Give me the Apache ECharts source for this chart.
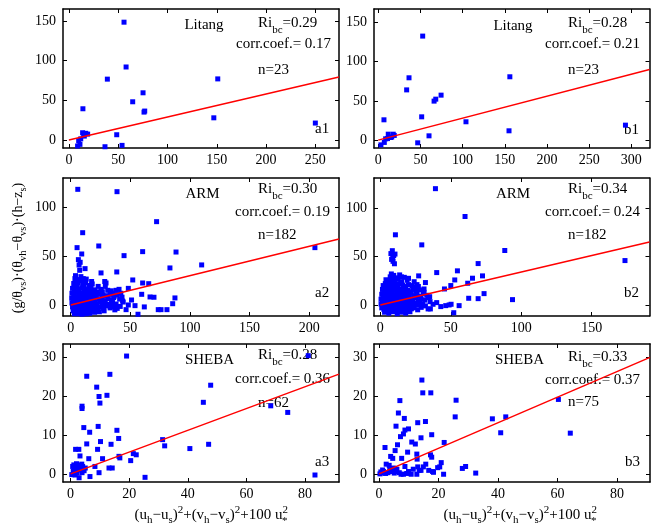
<!DOCTYPE html>
<html>
<head>
<meta charset="utf-8">
<script src="https://cdn.jsdelivr.net/npm/echarts@6/dist/echarts.min.js"></script>
<style>
  html, body { margin: 0; padding: 0; background: #fff; }
  #chart { width: 661px; height: 527px; }
</style>
</head>
<body>
<div id="chart"></div>
<script>
// ---- Data: x = (uh-us)^2+(vh-vs)^2+100 u*^2, y = (g/θvs)(θvh-θvs)(h-zs) ----
const litangA = [[55.9,148.4],[58,92],[39,76.7],[151,77],[75.2,59.5],[64.7,48.2],[76.9,36.5],[76.2,35.2],[14.2,39.4],[147,28],[250,21.4],[13.9,9.2],[19,7.5],[15.6,5],[48.5,6.7],[9.9,-0.9],[11.2,-5.4],[8.8,-7.5],[36.6,-8.4],[53.9,-6.7],[12,1.5],[17,8.5],[15,6.5]];
const litangB = [[52.7,132.5],[36.5,79.4],[156,80.7],[33.7,64],[74.5,57.3],[68.2,52.2],[66.2,49.7],[6.8,25.9],[51.5,29.7],[104,23.4],[293,19.1],[155,11.9],[60.2,5.5],[11.9,7.6],[17.8,7.6],[14.7,3.4],[8.8,1.7],[16,4],[7.2,-2.9],[3.2,-6],[46.8,-3.4],[11,2],[19,6]];

const armA = [
  [5.9,118.4],[38.8,116],[72,85.3],[10,74],[23.5,60.4],[5.3,58.7],[60.3,54.6],[88.3,54.2],[44.7,50.5],[204.8,58.7],
  [109.8,41],[83.2,37.9],[38.6,33.8],[25.4,32.8],[9.2,52.2],[6.4,46.4],[7.9,43.7],[7,40.9],[7.5,35.5],[12,37.2],
  [52,25.6],[60.3,22.5],[65.4,21.8],[29.6,22.5],[48.3,17],[59.5,10.9],[66.5,8.2],[69.8,7.9],[87.4,7.2],[85.5,1.3],
  [51,5.1],[48.3,0],[46.4,-4.8],[53.9,-0.7],[61.7,-2],[56.4,-9.5],[73.4,-4.8],[75.7,-4.8],[80.7,-4.8],
  [3.5,27],[8.5,29],[13,26.5],[9,25],[17.5,24],
  [2.5,22],[6,23],[10,21],[12.5,22.5],[15.5,20],[18,21.5],[28.5,24],[23,19],
  [1.5,17],[4,18],[7,16],[9.5,17.5],[11.5,15],[14,16.5],[17,17],[20,15.5],[22,13.5],[25.5,16],[31,15],[34,14.5],[38,15],[40.5,16],
  [1,12],[3,11],[5,13],[7.5,11.5],[9,12.5],[11,10.5],[13.5,12],[16,11],[18.5,12.5],[21,10],[24,11.5],[27,10],[30,9.5],[33,11],[36.5,9],[39,10.5],[42,12],
  [0.8,7],[2.5,8],[4.5,6.5],[6.5,8.5],[8,6],[10,7.5],[12,5.5],[14,8],[15.5,6],[17.5,7],[19.5,5],[21.5,8],[23.5,6],[26,7],[28,4.5],[31.5,6.5],[34,5],[36,7.5],[41,6],[43.5,4],
  [1,2],[2,3.5],[3.5,1],[5,2.5],[6.5,0.5],[8.5,3],[9.5,1.5],[11,3.5],[12.5,0],[14,2],[15,4],[16.5,1],[18,3],[19,0.5],[20.5,2.5],[22,1],[24.5,3],[26.5,1.5],[29,2],[32.5,0.5],[35,2.5],[38,1],[44,3],
  [1.5,-2],[3,-3.5],[4.5,-1],[6,-2.5],[7.5,-4],[9,-1.5],[10.5,-3],[12,-2],[13.5,-4.5],[15,-1],[16.5,-3],[18,-2],[19.5,-4],[21,-1.5],[23,-3],[25,-2],[27.5,-3.5],[30,-1],[33,-3],[36,-2],[39,-3.5],[41.5,-1.5],
  [2,-6],[4,-7.5],[6,-5.5],[8,-8],[10,-6.5],[12,-5],[14.5,-7],[16,-5.5],[18.5,-6.5],[21.5,-5],[24,-7],[6.5,-9],[13,-9],
  [2,5],[3,14],[5.5,20],[7,26],[4,30],[10.5,27],[11,19],[13,14],[8,9.5],[17,14],[19,9],[26.5,13.5],[29,19],[35,12],[43,8],[37,-5],[28,-6],[3,-9],[9.5,-9.5],[16,-8.5],[20,-7.5]
];

const armB = [
  [39.1,120],[60.1,91.3],[10.7,72.4],[29.4,62],[88.3,56.2],[173.6,45.8],[69.4,42.7],[54.7,35.2],[40,33.4],[27.2,30],
  [72.5,30],[32,23.1],[52.8,25.8],[62,22.4],[65.4,27.6],[73.6,11.7],[69.4,6.5],[62.7,6.9],[93.8,5.5],[55.9,-0.7],
  [52.1,-8],[45.5,16.5],[50,20],[7.8,32],[13.7,31],
  [7.5,53],[8.5,56],[9.5,51],[8,47],[9,45],[10,42.5],[8.8,49.5],[10.4,52.5],
  [48.8,0],[50.2,0.7],[46.4,-0.7],[42.9,-1.7],[40,2.4],[37.4,0.7],[35.3,3.4],[33.9,-4.1],[35.5,-4.1],
  [4,26],[6,24.5],[8,27],[10,25],[12.5,26.5],[15,24],[19,25.5],[24,24],
  [2,20],[3.5,22],[5,21],[6.5,19.5],[8,22.5],[9.5,20.5],[11,21.5],[12.5,19],[14,22],[16,20.5],[18,19],[20,21],[22.5,20],[25,18.5],
  [1.5,16],[3,15],[4.5,17],[6,16.5],[7.5,14.5],[9,17],[10.5,15.5],[12,16.5],[13.5,14],[15,16],[16.5,14.5],[18,17],[19.5,15],[21,13.5],[23,16],[25.5,14],[28,15.5],[31,13],
  [1,11],[2.5,12],[4,10],[5.5,12.5],[7,10.5],[8.5,12],[10,9.5],[11.5,11.5],[13,10],[14.5,12.5],[16,10.5],[17.5,9],[19,11.5],[20.5,10],[22,12],[24,9.5],[26,11],[28.5,9],[30.5,11.5],[33,10],
  [0.5,6],[2,7],[3.5,5],[5,7.5],[6.5,5.5],[8,6.5],[9.5,4.5],[11,7],[12.5,5],[14,6.5],[15.5,4.5],[17,7],[18.5,5.5],[20,4],[21.5,6.5],[23,5],[25,7],[27,4.5],[29,6],[31.5,5],[34,7.5],
  [0.5,1],[1.5,2.5],[3,0],[4.5,2],[6,-0.5],[7.5,1.5],[9,0],[10.5,2.5],[12,0.5],[13.5,2],[15,-0.5],[16.5,1.5],[18,3],[19.5,0],[21,2],[22.5,-0.5],[24,1.5],[26,0],[28,2.5],[30,0.5],[32,-1],
  [1,-3],[2.5,-4.5],[4,-2.5],[5.5,-5],[7,-3],[8.5,-4.5],[10,-2],[11.5,-5.5],[13,-3.5],[14.5,-2],[16,-4.5],[17.5,-3],[19,-5.5],[20.5,-2.5],[22,-4],[24,-3],[26.5,-5],[29,-2.5],
  [3,-7.5],[6,-8.5],[9,-7],[12,-9],[15,-7.5],[18,-8.5],[21,-7],
  [7,29],[9.5,30.5],[11,28],[17,28.5],[5,13],[13,7.5],[3,9],[26,21],[15,29],[20,27.5],[27,19],[31,16.5],[35,8.5]
];

const shebaA = [[19.1,30.3],[5.5,25.1],[13.4,25.6],[8.9,22.3],[9.7,19.9],[12.4,20.2],[10,18.2],[3.9,17.4],[3.9,16.8],[4.5,11.9],[6.5,10.7],[9.4,12.2],[15.8,11.2],[16.4,9.1],[5.5,7.7],[10.2,8.3],[13.8,7.6],[9.2,6.3],[1.7,6.3],[2.8,6.3],[3.2,4.6],[6.2,3.9],[10.9,3.9],[16.5,4.5],[16.8,4.1],[21.4,5.2],[22.4,4.9],[20.5,3.4],[31.4,8.8],[32.1,7.2],[8.3,1.9],[13.1,1.5],[14.2,1.5],[9.7,0.3],[1.1,2.3],[2,2.6],[2.8,2.2],[3.8,2.5],[0.7,1.9],[1.8,1.5],[2.6,1.2],[4.1,1.9],[0.9,0.6],[3.2,1],[3.9,0.3],[1.5,-0.3],[2.9,-1],[6.6,-0.7],[25.4,-0.9],[45.3,18.4],[47.8,22.8],[68.3,17.5],[74.1,15.8],[81.1,30.4],[83.4,-0.3],[40.7,6.5],[47.1,7.6],[2.2,0.2],[5,1.5],[0.4,-0.2],[4.6,0.8],[1.3,1.0]];

const shebaB = [[14.4,24.2],[14.7,20.9],[17.4,20.9],[7,18.9],[25.9,19],[60.3,19.2],[6.5,15.7],[25.6,14.7],[38.1,14.2],[42.6,14.7],[8.5,14.3],[15.6,13.5],[13,13.2],[5.7,12.3],[9.9,11.6],[8.7,11.3],[8.2,10.3],[7.2,9.6],[40.9,10.6],[64.3,10.5],[17.7,10.1],[14.1,9.3],[11,8.2],[12.2,7.7],[21.9,8.1],[6.2,7.5],[2,6.8],[5.4,6],[9.6,5.6],[12.7,5.1],[17.3,4.9],[17.7,4.3],[3.9,4.5],[4.6,4],[7.6,4],[12.8,3.8],[2.4,2.5],[3.4,2.2],[8.7,1.9],[15.7,2.5],[20.9,2.9],[20.4,1.8],[19.7,1.6],[28,1.4],[29.1,1.9],[32.5,0.2],[0.3,0],[0.9,0.2],[1.5,0.6],[4.3,0.6],[5.1,0.2],[5.6,0.6],[6,1.2],[7.4,-0.1],[8.2,-0.1],[9.9,0.6],[10.8,-0.1],[13.5,0.9],[14.1,0.9],[14.9,1.8],[18.3,0.4],[21.7,-0.1],[12.7,-0.1],[16.7,0.9],[18,0.6],[3,0.3],[2.2,0.1],[0.6,0.5],[4.8,1.5],[6.8,0.3],[11.5,1.2],[13,1.8],[1.2,1],[3.6,1.1],[9.3,0.1]];

// Bulk Richardson numbers (slope of fitted line), correlation coefficients, counts
const sites   = ['Litang', 'Litang', 'ARM', 'ARM', 'SHEBA', 'SHEBA'];
const tags    = ['a1', 'b1', 'a2', 'b2', 'a3', 'b3'];
const riBc    = [0.29, 0.28, 0.30, 0.34, 0.28, 0.33];
const corrTxt = ['0.17', '0.21', '0.19', '0.24', '0.36', '0.37'];
const counts  = [23, 23, 182, 182, 62, 75];
const points  = [litangA, litangB, armA, armB, shebaA, shebaB];

// Axis extents and tick labels
const xRanges = [[-6, 274], [-5, 321.5], [-6.5, 225], [-4.5, 191], [-2.6, 91.6], [-1.7, 91.1]];
const yRanges = [[-10, 165], [-10, 167], [-11.3, 130], [-11.4, 131], [-2.1, 33.4], [-2.1, 33.5]];
const xTicks  = [[0,50,100,150,200,250], [0,50,100,150,200,250,300], [0,50,100,150,200], [0,50,100,150], [0,20,40,60,80], [0,20,40,60,80]];
const yTicks  = [[0,50,100,150], [0,50,100,150], [0,50,100], [0,50,100], [0,10,20,30], [0,10,20,30]];

// ---- Layout ----
const FONT = '"Liberation Serif", "Times New Roman", Times, serif';
const grids = [
  { left: 63,  top: 9,   width: 276, height: 139 },
  { left: 374, top: 9,   width: 275.5, height: 139 },
  { left: 63,  top: 178, width: 276, height: 138 },
  { left: 374, top: 178, width: 275.5, height: 138 },
  { left: 63,  top: 344, width: 276, height: 138 },
  { left: 374, top: 344, width: 276, height: 138 }
];
// annotation offsets inside each panel: [siteX, siteY, riX, riY, corrX, corrY, nX, nY, tagX, tagY]
const notePos = [
  [141, 16, 195, 14, 173, 35, 195, 61, 252, 120],
  [139, 17, 194, 14, 171, 35, 194, 61, 250, 121],
  [139.5, 16, 195, 11, 172, 34, 195, 57, 252, 115],
  [139, 16, 194, 11, 171, 34, 194, 57, 250, 115],
  [146.5, 16.4, 195, 11.4, 172, 35, 195, 59, 252, 118.4],
  [145.5, 16.4, 194, 13, 171, 36, 194, 57.7, 251, 118.4]
];

const BLACK = '#000';
function makeAxis(kind, idx, pos, showLabel) {
  const range = kind === 'x' ? xRanges[idx] : yRanges[idx];
  const ticks = kind === 'x' ? xTicks[idx] : yTicks[idx];
  return {
    type: 'value',
    gridIndex: idx,
    position: pos,
    min: range[0],
    max: range[1],
    axisLine: { show: true, onZero: false, lineStyle: { color: BLACK, width: 1.5 } },
    axisTick: { show: true, inside: true, length: 4, customValues: ticks, lineStyle: { color: BLACK, width: 1 } },
    axisLabel: { show: showLabel, customValues: ticks, margin: kind === 'x' ? 5 : 7, color: BLACK, fontFamily: FONT, fontSize: 14 },
    splitLine: { show: false },
    splitArea: { show: false }
  };
}

const xAxes = [], yAxes = [], series = [], graphics = [];
grids.forEach((g, i) => {
  xAxes.push(makeAxis('x', i, 'bottom', true));
  xAxes.push(makeAxis('x', i, 'top', false));
  yAxes.push(makeAxis('y', i, 'left', true));
  yAxes.push(makeAxis('y', i, 'right', false));
  series.push({
    type: 'scatter',
    xAxisIndex: 2 * i, yAxisIndex: 2 * i,
    symbol: 'rect', symbolSize: 5,
    itemStyle: { color: '#0000ff', opacity: 1 },
    data: points[i],
    silent: true
  });
  const xmax = xRanges[i][1];
  series.push({
    type: 'line',
    xAxisIndex: 2 * i, yAxisIndex: 2 * i,
    data: [[0, 0], [xmax, riBc[i] * xmax]],
    showSymbol: false, symbol: 'none',
    lineStyle: { color: '#ff0000', width: 1.5, opacity: 1 },
    silent: true, z: 3
  });

  const p = notePos[i];
  const base = { fill: BLACK, fontFamily: FONT, fontSize: 15 };
  graphics.push({ type: 'text', x: g.left + p[0], y: g.top + p[1],
    style: Object.assign({}, base, { text: sites[i], align: 'center', verticalAlign: 'middle' }) });
  graphics.push({ type: 'text', x: g.left + p[2], y: g.top + p[3],
    style: Object.assign({}, base, {
      text: '{n|Ri}{s|bc}{n|=' + riBc[i].toFixed(2) + '}',
      align: 'left', verticalAlign: 'middle',
      rich: {
        n: { fontFamily: FONT, fontSize: 15, fill: BLACK },
        s: { fontFamily: FONT, fontSize: 11, fill: BLACK, padding: [14, 0, 0, 0] }
      }
    }) });
  graphics.push({ type: 'text', x: g.left + p[4], y: g.top + p[5],
    style: Object.assign({}, base, { text: 'corr.coef.= ' + corrTxt[i], align: 'left', verticalAlign: 'middle' }) });
  graphics.push({ type: 'text', x: g.left + p[6], y: g.top + p[7],
    style: Object.assign({}, base, { text: 'n=' + counts[i], align: 'left', verticalAlign: 'middle' }) });
  graphics.push({ type: 'text', x: g.left + p[8], y: g.top + p[9],
    style: Object.assign({}, base, { text: tags[i], align: 'left', verticalAlign: 'middle' }) });
});

// Axis titles with sub/superscripts
const subsup = {
  m:  { fontFamily: FONT, fontSize: 15, fill: BLACK },
  sb: { fontFamily: FONT, fontSize: 11, fill: BLACK, padding: [10, 0, 0, 0] },
  sp: { fontFamily: FONT, fontSize: 11, fill: BLACK, padding: [0, 0, 10, 0] },
  st: { fontFamily: FONT, fontSize: 11, fill: BLACK, padding: [12, 0, 0, -6] }
};
const xTitle = '{m|(u}{sb|h}{m|\u2212u}{sb|s}{m|)}{sp|2}{m|+(v}{sb|h}{m|\u2212v}{sb|s}{m|)}{sp|2}{m|+100 u}{sp|2}{st|*}';
[211, 520].forEach(cx => {
  graphics.push({ type: 'text', x: cx, y: 515,
    style: { text: xTitle, rich: subsup, align: 'center', verticalAlign: 'middle', fill: BLACK, fontFamily: FONT, fontSize: 15 } });
});
const ySub = {
  m:  { fontFamily: FONT, fontSize: 14, fill: BLACK },
  sb: { fontFamily: FONT, fontSize: 10.5, fill: BLACK, padding: [10, 0, 0, 0] }
};
graphics.push({ type: 'text', x: 18, y: 248, rotation: Math.PI / 2,
  style: { text: '{m|(g/\u03b8}{sb|vs}{m|)\u00b7(\u03b8}{sb|vh}{m|\u2212\u03b8}{sb|vs}{m|)\u00b7(h\u2212z}{sb|s}{m|)}',
    rich: ySub, align: 'center', verticalAlign: 'middle', fill: BLACK, fontFamily: FONT, fontSize: 14 } });

const chart = echarts.init(document.getElementById('chart'), null, { renderer: 'canvas' });
chart.setOption({
  backgroundColor: '#fff',
  animation: false,
  grid: grids.map(g => Object.assign({ containLabel: false, show: false }, g)),
  xAxis: xAxes,
  yAxis: yAxes,
  series: series,
  graphic: graphics
});
</script>
</body>
</html>
